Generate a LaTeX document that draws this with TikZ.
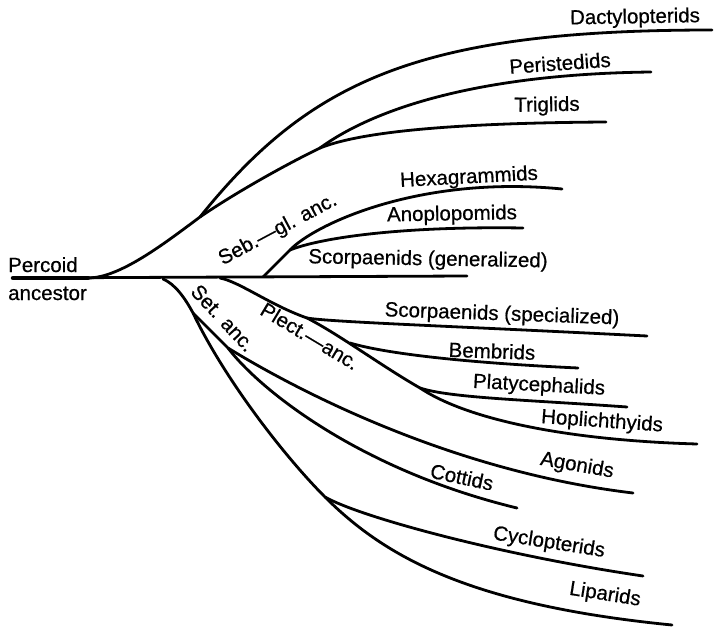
\documentclass[tikz,border=0pt]{standalone}
\usepackage{fontspec}
\setmainfont{Liberation Sans}
\newfontfamily\taxonfont{Liberation Sans}[FakeBold=0.6]
\begin{document}
\begin{tikzpicture}[x=1pt,y=-1pt,
    branch/.style={line width=2.8pt,line cap=round},
    taxon/.style={font=\taxonfont\fontsize{20.5}{28}\selectfont,inner sep=0pt}]
\useasboundingbox (0,0) rectangle (714,628);
% branch points
\coordinate (root) at (13,278);
\coordinate (upBase) at (88,278);
\coordinate (dactSplit) at (200,217);
\coordinate (triSplit) at (320,148);
\coordinate (setBase) at (163,279);
\coordinate (plectBase) at (220,278);
\coordinate (sebBase) at (263,277);
\coordinate (hexSplit) at (290,250);
\coordinate (setSplit) at (193,313);
\coordinate (agonSplit) at (228,348);
\coordinate (cycSplit) at (325,497);
\coordinate (scsSplit) at (307,318);
\coordinate (bemSplit) at (350,343);
\coordinate (plaSplit) at (420,388);
% line ends
\coordinate (dactEnd) at (712,30);
\coordinate (periEnd) at (651,72);
\coordinate (trigEnd) at (606,122);
\coordinate (hexEnd) at (562,189);
\coordinate (anopEnd) at (523,228);
\coordinate (scgEnd) at (467,276);
\coordinate (scsEnd) at (647,336);
\coordinate (bemEnd) at (578,368);
\coordinate (plaEnd) at (627,407);
\coordinate (hopEnd) at (697,444);
\coordinate (agonEnd) at (633,493);
\coordinate (cottEnd) at (517,508);
\coordinate (cycEnd) at (643,576);
\coordinate (lipEnd) at (672,625);

\draw[branch,line width=4.5pt] (root) -- (upBase);
\draw[branch] (root) -- (scgEnd);
\draw[branch] (upBase) .. controls (120,278) and (165,243) .. (dactSplit)
    .. controls (235,193) and (285,165) .. (triSplit);
\draw[branch] (dactSplit) .. controls (310,80) and (420,30) .. (dactEnd);
\draw[branch] (triSplit) .. controls (375,108) and (480,74) .. (periEnd);
\draw[branch] (triSplit) .. controls (360,132) and (450,123) .. (trigEnd);
\draw[branch] (sebBase) -- (hexSplit) .. controls (315,224) and (420,175) .. (hexEnd);
\draw[branch] (hexSplit) .. controls (320,238) and (400,226) .. (anopEnd);
\draw[branch] (setBase) .. controls (175,284) and (185,298) .. (setSplit)
    .. controls (225,380) and (285,457) .. (cycSplit)
    .. controls (385,557) and (470,605) .. (lipEnd);
\draw[branch] (cycSplit) .. controls (360,517) and (500,555) .. (cycEnd);
\draw[branch] (setSplit) -- (agonSplit) .. controls (280,380) and (440,470) .. (agonEnd);
\draw[branch] (agonSplit) .. controls (260,390) and (360,470) .. (cottEnd);
\draw[branch] (plectBase) .. controls (240,282) and (270,305) .. (scsSplit)
    .. controls (340,335) and (380,365) .. (plaSplit)
    .. controls (465,418) and (560,440) .. (hopEnd);
\draw[branch] (scsSplit) .. controls (330,322) and (450,326) .. (scsEnd);
\draw[branch] (bemSplit) .. controls (380,352) and (450,362) .. (bemEnd);
\draw[branch] (plaSplit) .. controls (450,398) and (530,400) .. (plaEnd);

\node[taxon,anchor=base west] (percoid) at (8,272) {Percoid};
\node[taxon,anchor=base west] (ancestor) at (8,300) {ancestor};
\node[taxon,rotate=28] (sebgl) at (278,230) {Seb.—gl. anc.};
\node[taxon,rotate=-47] (setanc) at (223,318) {Set. anc.};
\node[taxon,rotate=-31] (plectanc) at (310,336) {Plect.—anc.};
\node[taxon,rotate=1] (dact) at (635,18) {Dactylopterids};
\node[taxon,rotate=4] (peri) at (560,63) {Peristedids};
\node[taxon,rotate=1] (trig) at (547,106) {Triglids};
\node[taxon,rotate=3] (hexa) at (469,178) {Hexagrammids};
\node[taxon,rotate=1] (anop) at (452,215) {Anoplopomids};
\node[taxon,rotate=-1] (scg) at (428,260) {Scorpaenids (generalized)};
\node[taxon,rotate=-2] (scs) at (502,315) {Scorpaenids (specialized)};
\node[taxon,rotate=-2] (bemb) at (492,351) {Bembrids};
\node[taxon,rotate=-3] (plat) at (539,386) {Platycephalids};
\node[taxon,rotate=-4] (hopl) at (602,422) {Hoplichthyids};
\node[taxon,rotate=-10] (agon) at (577,466) {Agonids};
\node[taxon,rotate=-12] (cott) at (462,477) {Cottids};
\node[taxon,rotate=-9] (cycl) at (549,543) {Cyclopterids};
\node[taxon,rotate=-9] (lipa) at (605,595) {Liparids};
\end{tikzpicture}
\end{document}
